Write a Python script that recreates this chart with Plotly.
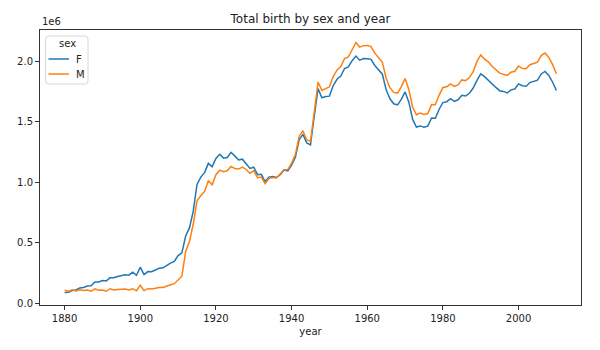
import plotly.graph_objects as go

# Total births per year, split by sex
years = list(range(1880, 2011))

births_f = [
    90993, 91955, 107851, 112322, 129021, 133056, 144538, 145983, 178631, 178369,
    190377, 185486, 212350, 212908, 222923, 233632, 237924, 234199, 258771, 233022,
    299873, 239351, 264079, 261976, 275375, 291641, 295301, 318558, 334277, 347191,
    396416, 418180, 557939, 624317, 761376, 983824, 1044249, 1081194, 1157585, 1130149,
    1198214, 1232845, 1200796, 1206239, 1248821, 1217217, 1185078, 1192207, 1152836, 1116284,
    1125521, 1064233, 1066930, 1007523, 1044250, 1048395, 1040760, 1064452, 1103385, 1096250,
    1143390, 1207840, 1352664, 1396860, 1326913, 1310000, 1550000, 1775000, 1700000, 1710000,
    1713000, 1799000, 1852000, 1879000, 1941000, 1955000, 2006000, 2044000, 2010000, 2023000,
    2022000, 2017000, 1966000, 1927000, 1894000, 1765000, 1691000, 1650000, 1640000, 1686000,
    1748000, 1663000, 1521000, 1458000, 1467000, 1457000, 1465000, 1532000, 1531000, 1605000,
    1660000, 1667000, 1692000, 1670000, 1683000, 1720000, 1714000, 1737000, 1780000, 1843000,
    1897000, 1874000, 1843000, 1808000, 1785000, 1758000, 1752000, 1739000, 1765000, 1772000,
    1814000, 1799000, 1795000, 1825000, 1834000, 1845000, 1896468, 1916888, 1883645, 1827643,
    1759010,
]

births_m = [
    110493, 100748, 113687, 104632, 114445, 107802, 110785, 101412, 120857, 110590,
    111026, 101196, 122037, 112319, 115775, 117398, 119575, 112760, 122490, 106219,
    150554, 106478, 122660, 119240, 128129, 132319, 133159, 146838, 154339, 163983,
    194209, 225964, 429926, 512482, 654746, 848647, 890142, 925512, 1013720, 980215,
    1064468, 1101374, 1088380, 1096227, 1132671, 1115798, 1110440, 1126259, 1107113, 1075355,
    1097319, 1038467, 1043914, 990724, 1032255, 1040883, 1036915, 1068987, 1104525, 1106418,
    1158934, 1229564, 1382166, 1426883, 1350453, 1340000, 1590000, 1830000, 1760000, 1775000,
    1790000, 1875000, 1928000, 1958000, 2023000, 2036000, 2095000, 2156000, 2118000, 2130000,
    2132000, 2122000, 2068000, 2031000, 1993000, 1861000, 1783000, 1744000, 1738000, 1789000,
    1859000, 1768000, 1622000, 1559000, 1573000, 1562000, 1569000, 1643000, 1642000, 1722000,
    1784000, 1790000, 1814000, 1794000, 1805000, 1847000, 1841000, 1866000, 1915000, 2000000,
    2053000, 2019000, 1996000, 1960000, 1931000, 1903000, 1893000, 1884000, 1910000, 1918000,
    1962000, 1941000, 1940000, 1972000, 1982000, 1994000, 2050234, 2069242, 2032310, 1973359,
    1898382,
]

series_names = ["F", "M"]
series_colors = ["#1f77b4", "#ff7f0e"]
legend_title = "sex"

x_ticks = [1880, 1900, 1920, 1940, 1960, 1980, 2000]
y_ticks = [0, 500000, 1000000, 1500000, 2000000]
y_tick_labels = ["0.0", "0.5", "1.0", "1.5", "2.0"]

font_family = "DejaVu Sans, sans-serif"
text_color = "#222222"

# page geometry (pixels)
W, H = 600, 350
M_L, M_R, M_T, M_B = 40, 19, 30, 45
plot_w = W - M_L - M_R
plot_h = H - M_T - M_B


def px(xp):
    return (xp - M_L) / plot_w


def py(yp):
    return (H - M_B - yp) / plot_h


fig = go.Figure()
for name, values, color in zip(series_names, [births_f, births_m], series_colors):
    fig.add_trace(go.Scatter(
        x=years, y=values, mode="lines", name=name,
        line=dict(color=color, width=1.5), showlegend=False,
    ))

# axis limits with 5% padding around the data extent
all_vals = births_f + births_m
lo, hi = min(all_vals), max(all_vals)
pad_y = 0.05 * (hi - lo)
pad_x = 0.05 * (years[-1] - years[0])

axis_common = dict(
    showline=True, mirror=True, linecolor="#333333", linewidth=1,
    ticks="outside", ticklen=4, tickcolor="#333333", tickwidth=1,
    showgrid=False, zeroline=False,
    tickfont=dict(family=font_family, size=10, color=text_color),
)

fig.update_xaxes(
    range=[years[0] - pad_x, years[-1] + pad_x],
    tickvals=x_ticks,
    title=dict(text="year", font=dict(family=font_family, size=10, color=text_color), standoff=4),
    **axis_common,
)
fig.update_yaxes(
    range=[lo - pad_y, hi + pad_y],
    tickvals=y_ticks, ticktext=y_tick_labels,
    **axis_common,
)

fig.add_annotation(
    text="1e6", xref="paper", yref="paper", x=0, y=1,
    xanchor="left", yanchor="bottom", showarrow=False, yshift=1,
    font=dict(family=font_family, size=10, color=text_color),
)

# legend box drawn in the upper-left corner of the axes
bx0, bx1, by0, by1 = 45.5, 88, 36, 84
r = 3
box_path = (
    f"M {px(bx0 + r)},{py(by0)} L {px(bx1 - r)},{py(by0)} "
    f"Q {px(bx1)},{py(by0)} {px(bx1)},{py(by0 + r)} "
    f"L {px(bx1)},{py(by1 - r)} Q {px(bx1)},{py(by1)} {px(bx1 - r)},{py(by1)} "
    f"L {px(bx0 + r)},{py(by1)} Q {px(bx0)},{py(by1)} {px(bx0)},{py(by1 - r)} "
    f"L {px(bx0)},{py(by0 + r)} Q {px(bx0)},{py(by0)} {px(bx0 + r)},{py(by0)} Z"
)
fig.add_shape(type="path", path=box_path, xref="paper", yref="paper",
              line=dict(color="#d6d6d6", width=1), fillcolor="rgba(255,255,255,0.85)")
fig.add_annotation(
    text=legend_title, xref="paper", yref="paper", x=px(67), y=py(43.5),
    xanchor="center", yanchor="middle", showarrow=False,
    font=dict(family=font_family, size=10, color=text_color),
)
for i, (name, color) in enumerate(zip(series_names, series_colors)):
    row_y = 59 + i * 15
    fig.add_shape(type="line", xref="paper", yref="paper",
                  x0=px(48.5), x1=px(69), y0=py(row_y), y1=py(row_y),
                  line=dict(color=color, width=1.5))
    fig.add_annotation(
        text=name, xref="paper", yref="paper", x=px(74), y=py(row_y),
        xanchor="left", yanchor="middle", showarrow=False,
        font=dict(family=font_family, size=10, color=text_color),
    )

fig.update_layout(
    width=W, height=H,
    margin=dict(l=M_L, r=M_R, t=M_T, b=M_B),
    paper_bgcolor="white", plot_bgcolor="white",
    title=dict(
        text="Total birth by sex and year", x=(M_L + plot_w / 2) / W, xanchor="center",
        y=1 - 19 / H, yanchor="middle",
        font=dict(family=font_family, size=12, color=text_color),
    ),
    showlegend=False,
)

fig.write_html("out.html")
